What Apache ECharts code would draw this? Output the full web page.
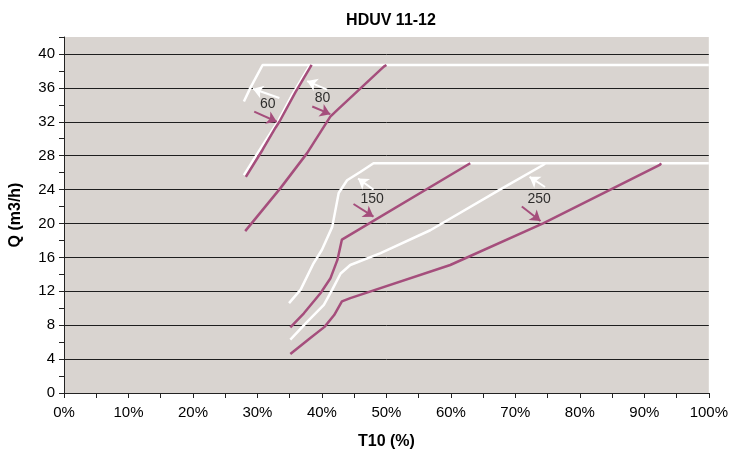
<!DOCTYPE html>
<html><head><meta charset="utf-8">
<script src="https://cdn.jsdelivr.net/npm/echarts@6/dist/echarts.min.js"></script>
<style>html,body{margin:0;padding:0;background:#fff}#c{width:731px;height:456px}</style>
</head><body><div id="c"></div>
<script>
// Curves: [T10 %, Q m3/h]
const white60 = [[27.9,34.4],[28.9,36.0],[30.8,38.7],[100,38.7]];
const purple60 = [[28.2,25.5],[30.8,28.7],[32.8,31.3],[33.4,32.0],[35.9,35.5],[38.4,38.7]];
const white80 = [[27.9,25.7],[30.2,28.5],[33.3,32.2],[35.4,35.2],[38.0,38.5],[38.4,38.7]];
const purple80 = [[28.1,19.1],[33.6,24.2],[37.7,28.3],[41.3,32.6],[42.4,33.4],[49.6,38.5],[50.0,38.7]];
const white150 = [[34.9,10.6],[36.7,12.2],[38.7,15.3],[40.0,16.9],[41.6,19.6],[42.6,23.6],[43.9,25.1],[46.0,26.1],[48.0,27.1],[100,27.1]];
const purple150 = [[35.1,7.75],[37.2,9.4],[39.8,11.8],[41.3,13.5],[42.4,15.7],[43.1,18.1],[63.0,27.1]];
const white250 = [[35.1,6.3],[37.7,8.4],[40.3,10.4],[41.6,12.2],[42.9,14.1],[44.4,15.1],[49.1,16.5],[56.8,19.2],[67.6,24.0],[74.3,26.9],[74.6,27.1]];
const purple250 = [[35.1,4.6],[38.2,6.5],[40.4,7.8],[41.9,9.2],[43.1,10.8],[44.4,11.2],[59.9,15.1],[74.3,20.0],[92.4,26.9],[92.6,27.1]];

// Annotations
const labelText = ['60','80','150','250'];
const labelPos = [[31.6,34.1],[40.1,34.8],[47.8,22.9],[73.7,22.9]];
const whiteArrows = [[[33.4,34.8],[29.3,35.9]],[[40.8,35.8],[37.7,36.8]],[[48.0,24.0],[45.6,25.3]],[[74.6,24.3],[72.2,25.5]]];
const purpleArrows = [[[29.5,33.2],[33.0,32.0]],[[38.5,33.8],[41.3,32.9]],[[44.9,22.3],[48.0,20.8]],[[71.0,22.0],[73.9,20.3]]];

const xTicks = {min:0, max:100, step:5, labelEvery:10};
const yTicks = {min:0, max:42, step:2, labelEvery:4, lastGrid:40};

const WHITE = '#ffffff', PURPLE = '#a54e7c';
const FONT = 'Liberation Sans, Arial, sans-serif';

function lineSeries(data, color){
  return {type:'line', data:data, showSymbol:false, symbol:'none', smooth:false,
    lineStyle:{color:color, width:2.5}, silent:true, animation:false, z:3};
}
function arrowSeries(arr, color){
  return {type:'line', data:[], silent:true, animation:false, z:4,
    markLine:{silent:true, animation:false, symbol:['none','arrow'], symbolSize:[10,10],
      label:{show:false}, lineStyle:{color:color, width:2, type:'solid'},
      emphasis:{disabled:true},
      data: arr.map(a=>[{coord:a[0]},{coord:a[1]}])}};
}

const nGrid = (yTicks.max - yTicks.min)/yTicks.step + 1;
const gridColors = [];
for(let i=0;i<nGrid;i++){
  const v = yTicks.min + i*yTicks.step;
  gridColors.push(v%yTicks.labelEvery===0 && v<=yTicks.lastGrid ? '#1e1e1e' : 'rgba(0,0,0,0)');
}

const chart = echarts.init(document.getElementById('c'), null, {renderer:'canvas'});
chart.setOption({
  animation:false,
  backgroundColor:'#ffffff',
  title:{text:'HDUV 11-12', left:386, top:8, textAlign:'center',
    textStyle:{fontFamily:FONT, fontSize:16, fontWeight:'bold', color:'#000'}},
  grid:{left:63, right:22, top:37, bottom:63, show:true, backgroundColor:'#d9d4d0', borderWidth:0},
  xAxis:{type:'value', min:xTicks.min, max:xTicks.max, interval:xTicks.step,
    name:'T10 (%)', nameLocation:'middle', nameGap:41,
    nameTextStyle:{fontFamily:FONT, fontSize:16, fontWeight:'bold', color:'#000'},
    axisLine:{show:true, lineStyle:{color:'#222', width:1}},
    axisTick:{show:true, inside:false, length:5, lineStyle:{color:'#222'}},
    axisLabel:{fontFamily:FONT, fontSize:15, color:'#000', margin:12,
      formatter:v=> (v%xTicks.labelEvery===0 ? v+'%' : '')},
    splitLine:{show:false}},
  yAxis:{type:'value', min:yTicks.min, max:yTicks.max, interval:yTicks.step,
    name:'Q (m3/h)', nameLocation:'middle', nameGap:40, nameRotate:90,
    nameTextStyle:{fontFamily:FONT, fontSize:16, fontWeight:'bold', color:'#000'},
    axisLine:{show:true, lineStyle:{color:'#222', width:1}},
    axisTick:{show:true, inside:false, length:5, lineStyle:{color:'#222'}},
    axisLabel:{fontFamily:FONT, fontSize:15, color:'#000', margin:9,
      formatter:v=> (v%yTicks.labelEvery===0 && v<=yTicks.lastGrid ? String(v) : '')},
    splitLine:{show:true, lineStyle:{color:gridColors, width:1}}},
  series:[
    lineSeries(white60, WHITE),
    lineSeries(white80, WHITE),
    lineSeries(white150, WHITE),
    lineSeries(white250, WHITE),
    lineSeries(purple60, PURPLE),
    lineSeries(purple80, PURPLE),
    lineSeries(purple150, PURPLE),
    lineSeries(purple250, PURPLE),
    arrowSeries(whiteArrows, WHITE),
    arrowSeries(purpleArrows, PURPLE),
    {type:'scatter', symbolSize:0, silent:true, animation:false, z:5,
      data: labelPos.map((p,i)=>({value:p, name:labelText[i]})),
      label:{show:true, position:'inside', formatter:p=>p.name,
        fontFamily:FONT, fontSize:14, color:'#000'}}
  ]
});
</script>
</body></html>
